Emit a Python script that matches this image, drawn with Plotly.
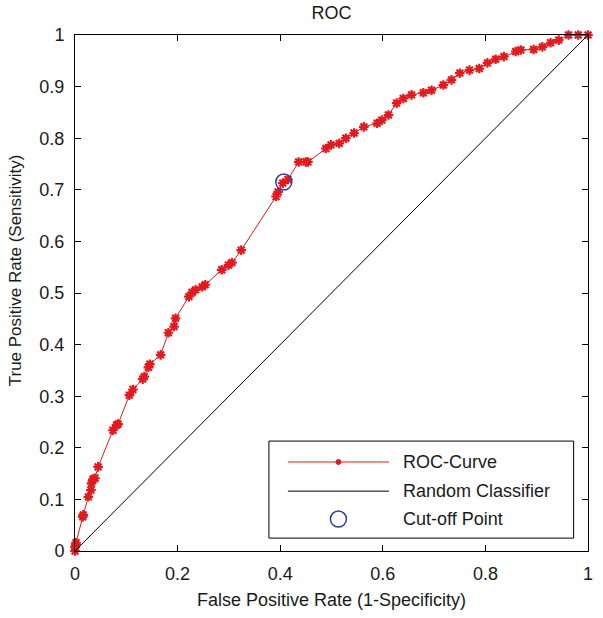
import plotly.graph_objects as go

# ROC curve values
fpr = [0, 0, 0.002, 0.002, 0.015, 0.016, 0.026, 0.031, 0.032, 0.035, 0.039, 0.045,
       0.074, 0.081, 0.084, 0.106, 0.113, 0.132, 0.135, 0.143, 0.146, 0.167,
       0.182, 0.193, 0.196, 0.222, 0.228, 0.235, 0.248, 0.254, 0.286, 0.299,
       0.306, 0.324, 0.392, 0.396, 0.405, 0.415, 0.436, 0.450, 0.454, 0.489,
       0.499, 0.515, 0.528, 0.544, 0.563, 0.589, 0.598, 0.611, 0.627, 0.640,
       0.656, 0.679, 0.695, 0.718, 0.734, 0.750, 0.769, 0.788, 0.804, 0.820,
       0.836, 0.859, 0.869, 0.894, 0.911, 0.927, 0.943, 0.962, 0.981, 1.0]
tpr = [0, 0.008, 0.012, 0.016, 0.066, 0.070, 0.105, 0.118, 0.131, 0.139, 0.141, 0.163,
       0.234, 0.244, 0.246, 0.302, 0.313, 0.333, 0.338, 0.356, 0.362, 0.380,
       0.423, 0.435, 0.451, 0.493, 0.501, 0.506, 0.512, 0.516, 0.545, 0.554,
       0.559, 0.583, 0.687, 0.696, 0.713, 0.720, 0.754, 0.754, 0.754, 0.780,
       0.787, 0.790, 0.800, 0.810, 0.822, 0.829, 0.835, 0.845, 0.868, 0.877,
       0.884, 0.888, 0.893, 0.903, 0.913, 0.926, 0.932, 0.935, 0.946, 0.953,
       0.958, 0.968, 0.971, 0.972, 0.977, 0.985, 0.990, 1.0, 1.0, 1.0]

random_x = [0, 1]
random_y = [0, 1]

cutoff_x = [0.407]
cutoff_y = [0.715]

x_ticks = [0, 0.2, 0.4, 0.6, 0.8, 1]
y_ticks = [0, 0.1, 0.2, 0.3, 0.4, 0.5, 0.6, 0.7, 0.8, 0.9, 1]

legend_labels = ["ROC-Curve", "Random Classifier", "Cut-off Point"]

RED = "rgb(226,26,30)"
BLUE = "rgb(45,65,160)"
TXT = "#1a1a1a"
FONT = "Liberation Sans, Arial, sans-serif"

fig = go.Figure()
fig.add_trace(go.Scatter(
    x=fpr, y=tpr, mode="lines+markers", name=legend_labels[0],
    line=dict(color=RED, width=1),
    marker=dict(symbol="asterisk-open", size=8, color=RED,
                line=dict(color=RED, width=2.2)),
    cliponaxis=False, showlegend=False))
fig.add_trace(go.Scatter(
    x=random_x, y=random_y, mode="lines", name=legend_labels[1],
    line=dict(color="black", width=1), showlegend=False))
fig.add_trace(go.Scatter(
    x=cutoff_x, y=cutoff_y, mode="markers", name=legend_labels[2],
    marker=dict(symbol="circle-open", size=16, color=BLUE,
                line=dict(color=BLUE, width=1.5)),
    showlegend=False))

axis_common = dict(
    range=[0, 1], showgrid=False, zeroline=False,
    showline=True, linecolor="black", linewidth=1, mirror="allticks",
    ticks="inside", ticklen=6, tickcolor="black", tickwidth=1,
    tickfont=dict(family=FONT, size=18, color=TXT),
)

fig.update_xaxes(**axis_common, tickvals=x_ticks,
                 ticktext=[f"{v:g}" for v in x_ticks], ticklabelstandoff=6)
fig.update_yaxes(**axis_common, tickvals=y_ticks,
                 ticktext=[f"{v:g}" for v in y_ticks], ticklabelstandoff=6)

# custom legend (MATLAB-style)
lx0, lx1, ly0, ly1 = 0.378, 0.972, 0.025, 0.213
sx0, sx1, sxm = 0.415, 0.612, 0.5135
rows = [0.1725, 0.116, 0.062]
shapes = [
    dict(type="rect", xref="paper", yref="paper", x0=lx0, x1=lx1, y0=ly0, y1=ly1,
         line=dict(color="black", width=1), fillcolor="white", layer="above"),
    dict(type="line", xref="paper", yref="paper", x0=sx0, x1=sx1, y0=rows[0], y1=rows[0],
         line=dict(color=RED, width=1), layer="above"),
    dict(type="circle", xref="paper", yref="paper", xsizemode="pixel", ysizemode="pixel",
         xanchor=sxm, yanchor=rows[0], x0=-2.5, x1=2.5, y0=-2.5, y1=2.5,
         line=dict(color=RED, width=1), fillcolor=RED, layer="above"),
    dict(type="line", xref="paper", yref="paper", x0=sx0, x1=sx1, y0=rows[1], y1=rows[1],
         line=dict(color="black", width=1), layer="above"),
    dict(type="circle", xref="paper", yref="paper", xsizemode="pixel", ysizemode="pixel",
         xanchor=sxm, yanchor=rows[2], x0=-8, x1=8, y0=-8, y1=8,
         line=dict(color=BLUE, width=1.5), layer="above"),
]
annotations = [
    dict(text=lab, xref="paper", yref="paper", x=0.635, y=r, xanchor="left",
         yanchor="middle", showarrow=False, font=dict(family=FONT, size=18, color=TXT))
    for lab, r in zip(legend_labels, rows)
]
annotations += [
    dict(text="False Positive Rate (1-Specificity)", xref="paper", yref="paper",
         x=0.5, y=-0.095, xanchor="center", yanchor="middle", showarrow=False,
         font=dict(family=FONT, size=18, color=TXT)),
    dict(text="True Positive Rate (Sensitivity)", xref="paper", yref="paper",
         x=-0.116, y=0.545, xanchor="center", yanchor="middle", showarrow=False,
         textangle=-90, font=dict(family=FONT, size=17, color=TXT)),
]

fig.update_layout(
    width=603, height=618,
    margin=dict(l=75, r=10, t=35, b=67, pad=0),
    paper_bgcolor="white", plot_bgcolor="white",
    title=dict(text="ROC", x=0.5, xref="paper", y=1 - 13 / 618, yref="container",
               xanchor="center", yanchor="middle",
               font=dict(family=FONT, size=18, color=TXT)),
    shapes=shapes, annotations=annotations, showlegend=False,
)

fig.write_html(
    "out.html",
    config={"displayModeBar": False},
    post_script="document.body.style.margin='0';document.body.style.padding='0';"
                "document.body.style.overflow='hidden';",
)
